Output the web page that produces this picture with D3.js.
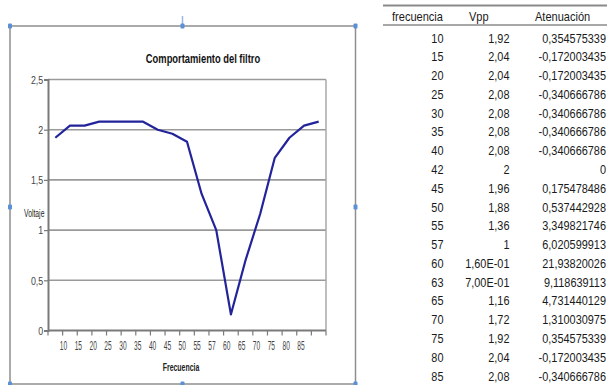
<!DOCTYPE html>
<html>
<head>
<meta charset="utf-8">
<script src="https://cdn.jsdelivr.net/npm/d3@7/dist/d3.min.js"></script>
<style>
  html, body { margin: 0; padding: 0; background: #fff; }
  svg { display: block; }
  text { font-family: "Liberation Sans", Arial, sans-serif; }
</style>
</head>
<body>
<svg id="chart" width="607" height="385"></svg>
<script>
// Filter measurements: frequency, peak-to-peak voltage and attenuation
const frecuencia = [10, 15, 20, 25, 30, 35, 40, 42, 45, 50, 55, 57, 60, 63, 65, 70, 75, 80, 85];
const vpp = [1.92, 2.04, 2.04, 2.08, 2.08, 2.08, 2.08, 2, 1.96, 1.88, 1.36, 1, 0.16, 0.7, 1.16, 1.72, 1.92, 2.04, 2.08];
const atenuacion = [0.354575339, -0.172003435, -0.172003435, -0.340666786, -0.340666786, -0.340666786,
  -0.340666786, 0, 0.175478486, 0.537442928, 3.349821746, 6.020599913, 21.93820026, 9.118639113,
  4.731440129, 1.310030975, 0.354575339, -0.172003435, -0.340666786];
// Category labels shown under the axis
const xTickLabels = ["10", "15", "20", "25", "30", "35", "40", "45", "50", "55", "57", "60", "65", "70", "75", "80", "85"];
const yTicks = [0, 0.5, 1, 1.5, 2, 2.5];
const tableHeaders = ["frecuencia", "Vpp", "Atenuación"];

const svg = d3.select("#chart");

// condensed text: placed with a translate and squeezed horizontally
function narrow(sel, sx) {
  sel.each(function () {
    const t = d3.select(this);
    const px = +t.attr("x") || 0, py = +t.attr("y") || 0;
    t.attr("x", 0).attr("y", 0)
      .attr("transform", `translate(${px},${py}) scale(${sx},1)`);
  });
  return sel;
}

// ---- chart frame with selection handles ----
const frame = { x0: 10, y0: 26, x1: 355.5, y1: 384 };
svg.append("rect")
  .attr("x", frame.x0).attr("y", frame.y0)
  .attr("width", frame.x1 - frame.x0).attr("height", frame.y1 - frame.y0)
  .attr("fill", "#fff").attr("stroke", "#8f8f8f").attr("stroke-width", 1.5);

const midX = 182.5, midY = 207;
svg.append("line").attr("x1", midX).attr("x2", midX).attr("y1", 16).attr("y2", frame.y0)
  .attr("stroke", "#9bb8e0").attr("stroke-width", 1.5);
const handles = [
  [frame.x0, frame.y0], [midX, frame.y0], [frame.x1, frame.y0],
  [frame.x0, midY], [frame.x1, midY],
  [frame.x0, frame.y1], [midX, frame.y1], [frame.x1, frame.y1]
];
svg.selectAll("rect.handle").data(handles).enter().append("rect")
  .attr("class", "handle")
  .attr("x", d => d[0] - 2).attr("y", d => d[1] - 2.5)
  .attr("width", 4).attr("height", 5).attr("rx", 1)
  .attr("fill", "#5b8fd6");

// ---- plot area ----
const plot = { left: 48, right: 326, top: 79.5, bottom: 330.5 };

const x = d3.scaleBand().domain(d3.range(frecuencia.length))
  .range([plot.left, plot.right]).paddingInner(0).paddingOuter(0);
const y = d3.scaleLinear().domain([0, 2.5]).range([plot.bottom, plot.top]);

// horizontal gridlines
svg.append("g").selectAll("line").data(yTicks.filter(d => d > 0)).enter().append("line")
  .attr("x1", plot.left).attr("x2", plot.right)
  .attr("y1", d => y(d)).attr("y2", d => y(d))
  .attr("stroke", "#9a9a9a").attr("stroke-width", 1.6);

// right border
svg.append("line").attr("x1", plot.right).attr("x2", plot.right)
  .attr("y1", plot.top).attr("y2", plot.bottom)
  .attr("stroke", "#a8a8a8").attr("stroke-width", 1.5);

// y axis
const yAxis = d3.axisLeft(y).tickValues(yTicks).tickSize(4).tickPadding(2)
  .tickFormat(d => String(d).replace(".", ","));
const gy = svg.append("g").attr("transform", `translate(${plot.left},0)`).call(yAxis);
gy.select(".domain").attr("stroke", "#7a7a7a").attr("stroke-width", 2);
gy.selectAll(".tick line").attr("stroke", "#7a7a7a").attr("stroke-width", 1.2);
gy.selectAll(".tick text").attr("font-size", 11).attr("fill", "#444")
  .attr("transform", "scale(0.8,1)").attr("dy", "0.35em");

// x axis: tick marks at category boundaries
const boundaries = d3.range(frecuencia.length + 1).map(i => plot.left + i * x.bandwidth());
svg.append("line").attr("x1", plot.left).attr("x2", plot.right)
  .attr("y1", plot.bottom).attr("y2", plot.bottom)
  .attr("stroke", "#7a7a7a").attr("stroke-width", 2);
svg.append("g").selectAll("line").data(boundaries).enter().append("line")
  .attr("x1", d => d).attr("x2", d => d)
  .attr("y1", plot.bottom).attr("y2", plot.bottom + 5)
  .attr("stroke", "#7a7a7a").attr("stroke-width", 1.2);

// category labels spread along the axis
const xl = d3.scaleLinear().domain([0, xTickLabels.length - 1]).range([63.5, 301]);
narrow(svg.append("g").selectAll("text").data(xTickLabels).enter().append("text")
  .attr("x", (d, i) => xl(i)).attr("y", 349.5)
  .attr("text-anchor", "middle").attr("font-size", 12).attr("fill", "#444")
  .text(d => d), 0.55);

// data line
const line = d3.line()
  .x((d, i) => x(i) + x.bandwidth() / 2)
  .y(d => y(d));
svg.append("path").datum(vpp)
  .attr("d", line)
  .attr("fill", "none").attr("stroke", "#23239a").attr("stroke-width", 2.2)
  .attr("stroke-linejoin", "round");

// titles
narrow(svg.append("text").attr("x", 203).attr("y", 63).attr("text-anchor", "middle")
  .attr("font-size", 12).attr("font-weight", "bold").attr("fill", "#111")
  .text("Comportamiento del filtro"), 0.78);
narrow(svg.append("text").attr("x", 24).attr("y", 217)
  .attr("font-size", 10).attr("fill", "#222").text("Voltaje"), 0.68);
narrow(svg.append("text").attr("x", 181).attr("y", 371).attr("text-anchor", "middle")
  .attr("font-size", 10.5).attr("font-weight", "bold").attr("fill", "#222").text("Frecuencia"), 0.66);

// ---- data table ----
const fmtVpp = v => {
  if (v < 0.9) {
    const [m, e] = v.toExponential(2).split("e");
    const exp = Number(e);
    return m.replace(".", ",") + "E" + (exp < 0 ? "-" : "+") + String(Math.abs(exp)).padStart(2, "0");
  }
  return (Number.isInteger(v) ? String(v) : v.toFixed(2)).replace(".", ",");
};
const fmtAt = v => {
  if (v === 0) return "0";
  const s = Math.abs(v) < 1 ? v.toFixed(9) : v.toPrecision(10);
  return s.replace(".", ",");
};

const tbl = svg.append("g");
tbl.append("line").attr("x1", 383).attr("x2", 607).attr("y1", 5.5).attr("y2", 5.5)
  .attr("stroke", "#8a8a8a").attr("stroke-width", 2);
tbl.append("line").attr("x1", 383).attr("x2", 607).attr("y1", 25).attr("y2", 25)
  .attr("stroke", "#8a8a8a").attr("stroke-width", 1.5);

const headerX = [392, 469, 535];
narrow(tbl.selectAll("text.h").data(tableHeaders).enter().append("text")
  .attr("class", "h").attr("x", (d, i) => headerX[i]).attr("y", 21)
  .attr("font-size", 13).attr("fill", "#1a1a1a").text(d => d), 0.85);

const rowY = d3.scalePoint().domain(d3.range(frecuencia.length)).range([38, 376]);
const cols = [
  { right: 443.5, text: i => String(frecuencia[i]) },
  { right: 509.5, text: i => fmtVpp(vpp[i]) },
  { right: 606, text: i => fmtAt(atenuacion[i]) }
];
cols.forEach(c => {
  narrow(tbl.append("g").selectAll("text").data(d3.range(frecuencia.length)).enter().append("text")
    .attr("x", c.right).attr("y", i => rowY(i) + 4.5)
    .attr("text-anchor", "end").attr("font-size", 13).attr("fill", "#1a1a1a")
    .text(i => c.text(i)), 0.84);
});
</script>
</body>
</html>
